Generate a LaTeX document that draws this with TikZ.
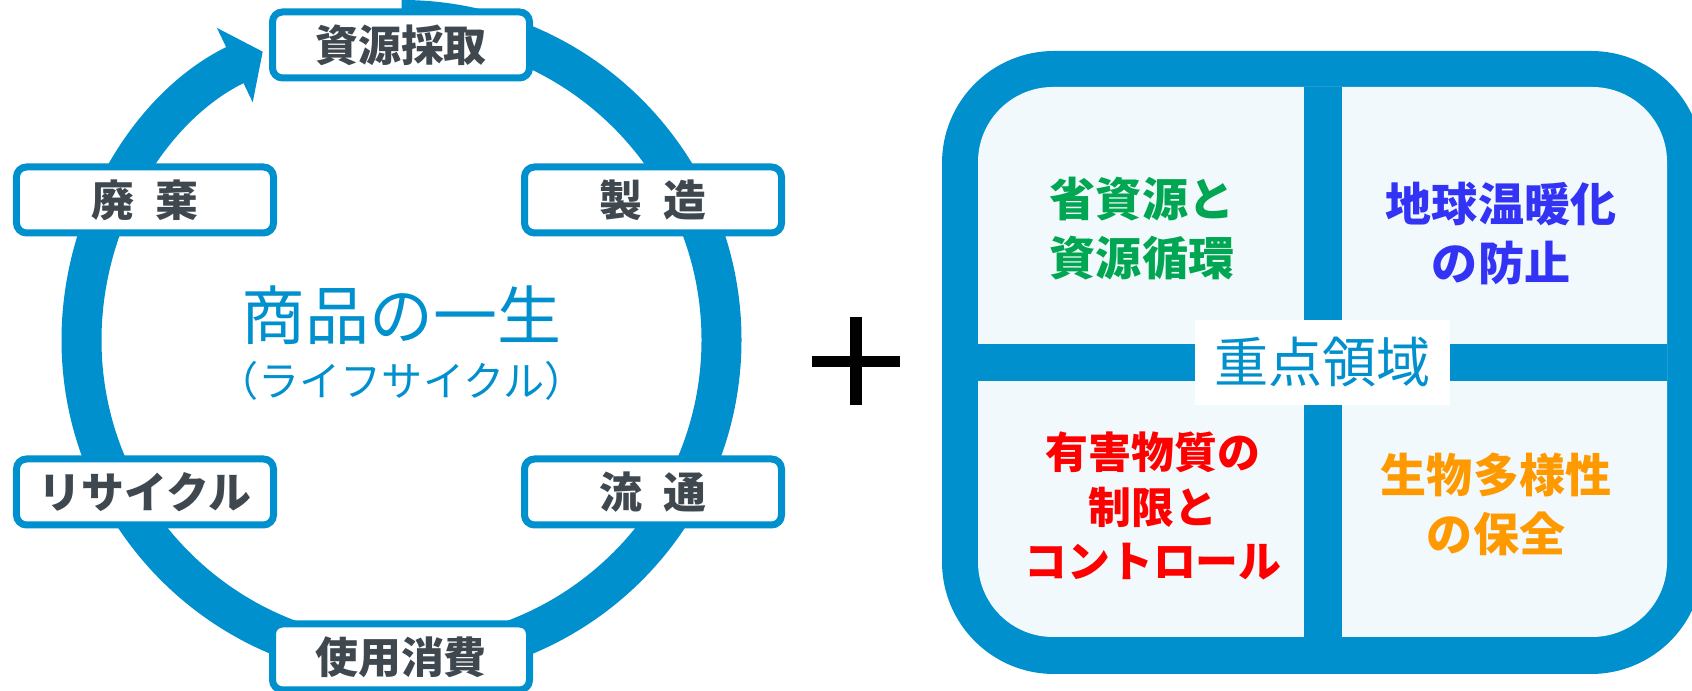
\documentclass[tikz,border=0pt]{standalone}
\usepackage{fontspec}
\setmainfont{Noto Sans CJK JP}
\usepackage{xcolor}
\usepackage{tikz}
\usetikzlibrary{arrows.meta}
\definecolor{lcblue}{HTML}{0090CE}
\definecolor{lcgray}{HTML}{3F474F}
\definecolor{cellfill}{HTML}{F2F9FC}
\definecolor{goalgreen}{HTML}{00A651}
\definecolor{goalblue}{HTML}{3333F5}
\definecolor{goalred}{HTML}{FF0000}
\definecolor{goalorange}{HTML}{FF9900}

\begin{document}
\begin{tikzpicture}[
    stagebox/.style={draw=lcblue,line width=0.07cm,fill=white,rounded corners=0.1cm,
        minimum width=2.57cm,minimum height=0.66cm,inner sep=0pt,text=lcgray,
        font=\bfseries\fontsize{12.2}{14}\selectfont},
    goal/.style={align=center,inner sep=0pt,font=\bfseries\fontsize{13.1}{16.8}\selectfont}]
            \useasboundingbox (0,0) rectangle (16.92,6.91);
            \coordinate (c) at (4.015,3.51);
            \draw[lcblue,line width=0.4cm,-{Triangle[length=0.31cm,width=0.81cm]}] (c) ++(90:3.2) arc[start angle=90,end angle=-244.3,radius=3.2];
            \node[stagebox] (extract) at (4.01,6.46) {資源採取};
            \node[stagebox] (make) at (6.53,4.91) {製\enspace 造};
            \node[stagebox] (distrib) at (6.53,1.99) {流\enspace 通};
            \node[stagebox] (use) at (4.01,0.34) {使用消費};
            \node[stagebox] (recycle) at (1.45,1.99) {リサイクル};
            \node[stagebox] (dispose) at (1.45,4.91) {廃\enspace 棄};
            \node[text=lcblue,font=\fontsize{18.2}{20}\selectfont] (life) at (4.015,3.76) {商品の一生};
            \node[text=lcblue,font=\fontsize{11.7}{13}\selectfont] (cycle) at (4.015,3.10) {（ライフサイクル）};
            \draw[line width=0.11cm] (8.12,3.295)--(9.00,3.295);
            \draw[line width=0.12cm] (8.56,2.86)--(8.56,3.74);
            \fill[lcblue,rounded corners=1.12cm] (9.42,0.17) rectangle (17.03,6.40);
            \fill[cellfill,rounded corners=0.75cm] (9.78,0.54) rectangle (16.67,6.04);
            \fill[lcblue] (13.04,0.54) rectangle (13.42,6.04);
            \fill[lcblue] (9.78,3.10) rectangle (16.67,3.47);
            \node[fill=white,text=lcblue,minimum width=2.55cm,minimum height=0.85cm,inner sep=0pt,font=\fontsize{15.4}{17}\selectfont] (focus) at (13.225,3.285) {重点領域};
            \node[goal,text=goalgreen] (resource) at (11.42,4.62) {省資源と\\資源循環};
            \node[goal,text=goalblue] (climate) at (15.01,4.57) {地球温暖化\\の防止};
            \node[goal,text=goalred,font=\bfseries\fontsize{12.2}{15.6}\selectfont] (chemical) at (11.53,1.85) {有害物質の\\制限と\\コントロール};
            \node[goal,text=goalorange] (biodiv) at (14.96,1.865) {生物多様性\\の保全};
\end{tikzpicture}
\end{document}
